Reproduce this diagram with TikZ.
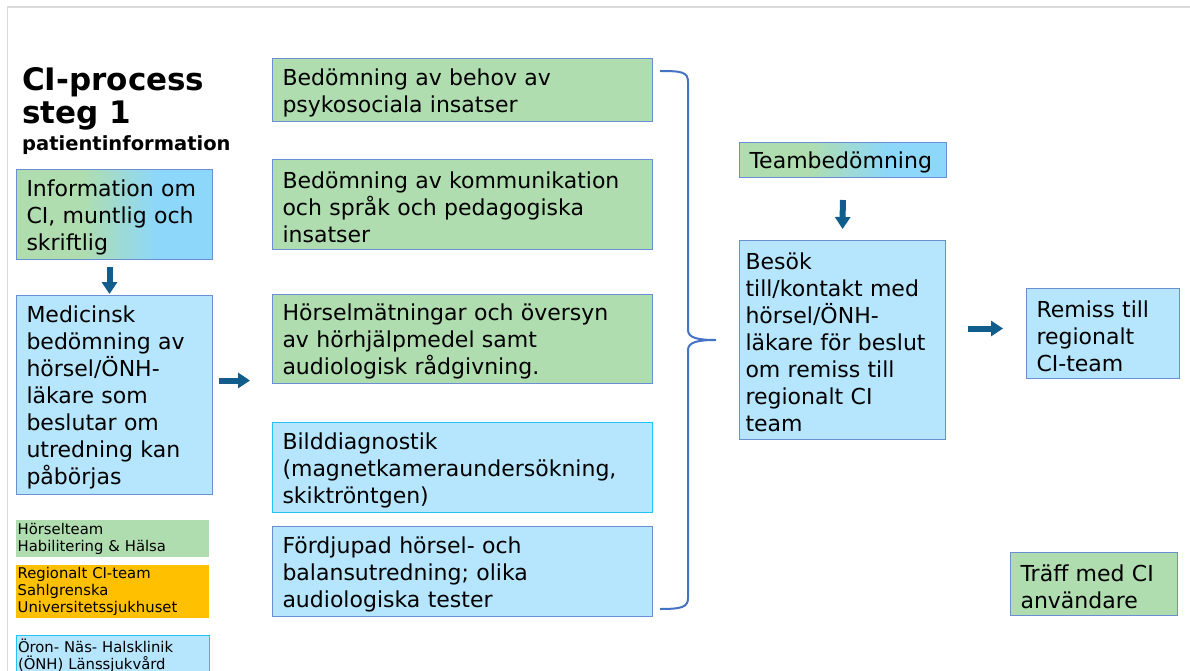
\documentclass[tikz,border=0pt]{standalone}
\usepackage{fontspec}
\setmainfont{DejaVu Sans}
\usetikzlibrary{arrows.meta}

\definecolor{cigreen}{HTML}{AFDDAF}
\definecolor{cilight}{HTML}{B5E6FD}
\definecolor{ciblue}{HTML}{8DD7FB}
\definecolor{ciborder}{HTML}{6A8FD3}
\definecolor{cicyan}{HTML}{25C3F5}
\definecolor{ciorange}{HTML}{FFC000}
\definecolor{ciarrow}{HTML}{115E8C}
\definecolor{cibrace}{HTML}{4472C4}
\definecolor{ciframe}{HTML}{D9D9D9}

% tikz fits the inner 25bp--75bp part of a shading to the path
\pgfdeclarehorizontalshading{greenblue}{100bp}{color(0bp)=(cigreen); color(42bp)=(cigreen); color(61bp)=(ciblue); color(100bp)=(ciblue)}

\newcommand\cibodyfont{\fontsize{22}{27}\selectfont}
\newcommand\cilegendfont{\fontsize{14.8}{17}\selectfont}

\tikzset{
  cibox/.style={draw=ciborder, line width=1pt, align=left, anchor=north west,
    inner xsep=10pt, inner ysep=0pt, font=\cibodyfont,
    execute at begin node={\rule{0pt}{22pt}}},
  greenbox/.style={cibox, fill=cigreen},
  bluebox/.style={cibox, fill=cilight},
  gradbox/.style={cibox, shading=greenblue},
  legendbox/.style={align=left, anchor=north west, inner xsep=1.5pt, inner ysep=0pt,
    text width=190pt, font=\cilegendfont},
  flowarrow/.style={draw=ciarrow, line width=6pt, -{Triangle[width=15pt,length=12pt]}}
}

\begin{document}
\begin{tikzpicture}[x=1pt, y=-1pt]
  \useasboundingbox (0,0) rectangle (1190,671);
  % slide frame
  \draw[ciframe, line width=2pt] (1190,7) -- (7,7);
  \draw[ciframe, line width=1pt] (7,7) -- (7,671);

  % title
  \node[anchor=west, inner sep=0pt, align=left, font=\fontsize{31}{33}\selectfont\bfseries] (title) at (22,98.5) {CI-process\\steg 1};
  \node[anchor=west, inner sep=0pt, font=\fontsize{19.5}{22}\selectfont\bfseries] (subtitle) at (22,145) {patientinformation};

  % left column
  \node[gradbox, text width=176pt, minimum height=90pt] (info) at (16,169) {Information om\\CI, muntlig och\\skriftlig};
  \node[bluebox, text width=176pt, minimum height=199pt] (med) at (16,295) {Medicinsk\\bedömning av\\hörsel/ÖNH-\\läkare som\\beslutar om\\utredning kan\\påbörjas};

  % legend
  \node[legendbox, fill=cigreen, minimum height=37pt] (lhab) at (16,520) {Hörselteam\\Habilitering \& Hälsa};
  \node[legendbox, fill=ciorange, minimum height=53pt] (lreg) at (16,565) {Regionalt CI-team\\Sahlgrenska\\Universitetssjukhuset};
  \node[legendbox, fill=cilight, draw=cicyan, line width=1pt, minimum height=40pt] (lonh) at (16,635) {Öron- Näs- Halsklinik\\(ÖNH) Länssjukvård};

  % middle column
  \node[greenbox, text width=360pt, minimum height=63pt] (b1) at (272,58) {Bedömning av behov av\\psykosociala insatser};
  \node[greenbox, text width=360pt, minimum height=90pt] (b2) at (272,159) {Bedömning av kommunikation\\och språk och pedagogiska\\insatser};
  \node[greenbox, text width=360pt, minimum height=89pt] (b3) at (272,294) {Hörselmätningar och översyn\\av hörhjälpmedel samt\\audiologisk rådgivning.};
  \node[bluebox, draw=cicyan, text width=360pt, minimum height=90pt] (b4) at (272,422) {Bilddiagnostik\\(magnetkameraundersökning,\\skiktröntgen)};
  \node[bluebox, text width=360pt, minimum height=90pt] (b5) at (272,526) {Fördjupad hörsel- och\\balansutredning; olika\\audiologiska tester};

  % brace
  \draw[cibrace, line width=2pt] (660,71) .. controls (682,71) and (688,72) .. (688,82)
    -- (688,330) .. controls (688,338) and (698,340) .. (716,340)
    .. controls (698,340) and (688,342) .. (688,350)
    -- (688,598) .. controls (688,607) and (682,609) .. (660,609);

  % right part
  \node[gradbox, text width=187pt, minimum height=35pt] (team) at (739,142) {Teambedömning};
  \node[bluebox, inner xsep=6pt, text width=194pt, minimum height=199pt] (besok) at (739,240) {Besök\\till/kontakt med\\hörsel/ÖNH-\\läkare för beslut\\om remiss till\\regionalt CI\\team};
  \node[bluebox, text width=133pt, minimum height=90pt] (remiss) at (1026,288) {Remiss till\\regionalt\\CI-team};
  \node[greenbox, text width=147pt, minimum height=63pt] (traff) at (1010,552) {Träff med CI\\användare};

  % arrows
  \draw[flowarrow, shorten <=7pt, shorten >=1pt] ([xshift=-5pt]info.south) -- ([xshift=-5pt]med.north);
  \draw[flowarrow, shorten <=6pt, shorten >=22pt] ([yshift=14.5pt]med.east) -- ([yshift=14.5pt]med.east -| b3.west);
  \draw[flowarrow, shorten <=22pt, shorten >=11pt] (team.south) -- (besok.north);
  \draw[flowarrow, shorten <=22pt, shorten >=23pt] ([yshift=11.5pt]besok.east) -- ([yshift=11.5pt]besok.east -| remiss.west);
\end{tikzpicture}
\end{document}
